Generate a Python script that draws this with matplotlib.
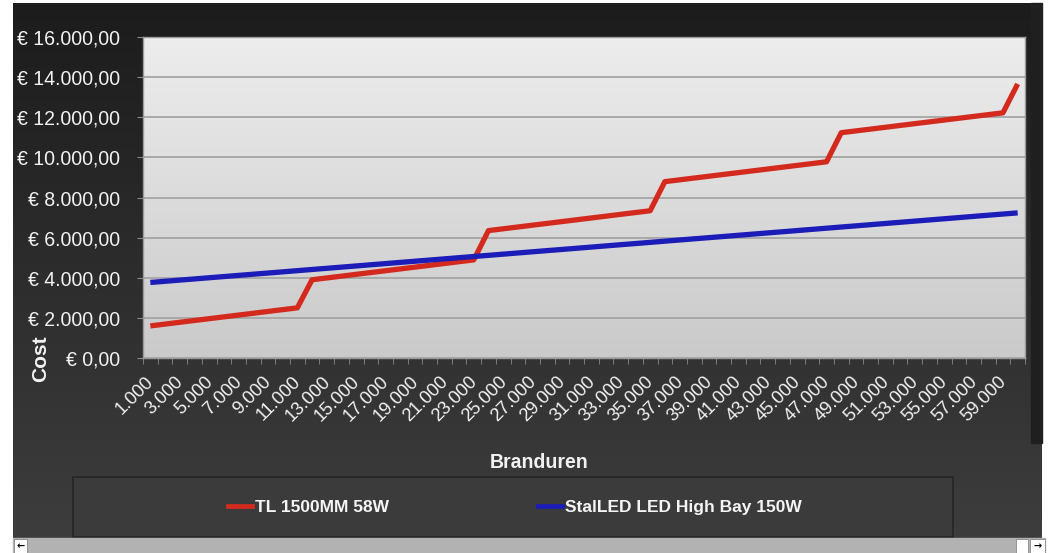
import numpy as np
import matplotlib
matplotlib.use('Agg')
import matplotlib.pyplot as plt
import matplotlib.transforms as mtransforms
from matplotlib import font_manager
from matplotlib.patches import Rectangle
from matplotlib.colors import LinearSegmentedColormap
from matplotlib.lines import Line2D

# categorieen (branduren) en kosten per lamp
branduren = [1000 * k for k in range(1, 61)]

tl_1500mm = [1600, 1690, 1780, 1870, 1960, 2050, 2140, 2230, 2320, 2410, 2500,
             3900, 3990, 4080, 4170, 4260, 4350, 4440, 4530, 4620, 4710, 4800, 4890,
             6350, 6440, 6530, 6620, 6710, 6800, 6890, 6980, 7070, 7160, 7250, 7340,
             8790, 8880, 8970, 9060, 9150, 9240, 9330, 9420, 9510, 9600, 9690, 9780,
             11230, 11320, 11410, 11500, 11590, 11680, 11770, 11860, 11950, 12040, 12130, 12220,
             13660]

stalled_150w = [3765, 3824, 3883, 3941, 4000, 4059, 4118, 4177, 4235, 4294,
                4353, 4412, 4471, 4529, 4588, 4647, 4706, 4765, 4823, 4882,
                4941, 5000, 5059, 5117, 5176, 5235, 5294, 5353, 5411, 5470,
                5529, 5588, 5647, 5705, 5764, 5823, 5882, 5941, 5999, 6058,
                6117, 6176, 6235, 6293, 6352, 6411, 6470, 6529, 6587, 6646,
                6705, 6764, 6823, 6881, 6940, 6999, 7058, 7117, 7175, 7234]

series_names = ["TL 1500MM 58W", "StalLED LED High Bay 150W"]
y_ticks = [0, 2000, 4000, 6000, 8000, 10000, 12000, 14000, 16000]


def has_font(name):
    try:
        font_manager.findfont(font_manager.FontProperties(family=name),
                              fallback_to_default=False)
        return True
    except ValueError:
        return False


# smalle letter als die er is, anders gewone Liberation Sans wat kleiner
if has_font('Liberation Sans Narrow'):
    narrow = 'Liberation Sans Narrow'
    s = 1.0
else:
    narrow = 'Liberation Sans'
    s = 0.88

def nl(v):
    # 16000 -> 16.000
    return f"{v:,}".replace(',', '.')

def euro(v):
    t = f"{v:,.2f}".replace(',', 'X').replace('.', ',').replace('X', '.')
    return "€ " + t


W, H = 1050, 553
fig = plt.figure(figsize=(W / 100, H / 100), dpi=100, facecolor='white')

# achtergrond (donker paneel + scrollbalk)
bg = fig.add_axes([0, 0, 1, 1], zorder=-10)
bg.set_xlim(0, W)
bg.set_ylim(H, 0)
bg.axis('off')
dark = LinearSegmentedColormap.from_list('dark', ['#1c1c1c', '#3d3d3d'])
bg.imshow(np.linspace(0, 1, 256).reshape(-1, 1), cmap=dark,
          extent=(13, 1042, 538, 3), aspect='auto')
bg.add_patch(Rectangle((1031, 3), 11, 440, color='#1f1f1f'))
bg.add_patch(Rectangle((73, 477), 880, 60, facecolor='#3b3b3b',
                       edgecolor='#252525', lw=1.2))
bg.add_patch(Rectangle((13, 538), 1032, 15, color='#b2b2b2'))
bg.add_patch(Rectangle((14, 539), 13, 14, facecolor='white', edgecolor='#888', lw=0.6))
bg.add_patch(Rectangle((1016, 539), 12, 14, facecolor='white', edgecolor='#888', lw=0.6))
bg.add_patch(Rectangle((1030, 539), 15, 14, facecolor='white', edgecolor='#888', lw=0.6))
bg.text(20.5, 546, '←', ha='center', va='center', fontsize=7, fontweight='bold',
        family='DejaVu Sans', color='black')
bg.text(1037.5, 546, '→', ha='center', va='center', fontsize=7, fontweight='bold',
        family='DejaVu Sans', color='black')

# grafiek
ax = fig.add_axes([143 / W, 195 / H, 882 / W, 321 / H])
x = np.arange(len(branduren))
light = LinearSegmentedColormap.from_list('light', ['#ededed', '#cacaca'])
ax.imshow(np.linspace(0, 1, 256).reshape(-1, 1), cmap=light,
          extent=(-0.5, len(x) - 0.5, 0, 16000), aspect='auto', zorder=0)

ax.plot(x, tl_1500mm, color='#d42a1e', lw=3.8, solid_capstyle='butt', zorder=3)
ax.plot(x, stalled_150w, color='#1c1cb8', lw=3.8, solid_capstyle='butt', zorder=3)

ax.set_xlim(-0.5, len(x) - 0.5)
ax.set_ylim(0, 16000)
ax.set_axisbelow(True)
ax.yaxis.grid(True, color='#a5a5a5', lw=1.3)

ax.set_yticks(y_ticks)
ax.set_yticklabels([euro(v) for v in y_ticks], family=narrow, fontsize=16 * s,
                   color='#f2f2f2')
ax.tick_params(axis='y', length=4.5, color='#8a8a8a', pad=12)

ax.set_xticks(x[::2])
ax.set_xticklabels([nl(v) for v in branduren[::2]], rotation=45, ha='right', va='top',
                   family=narrow, fontsize=15 * s, color='#f2f2f2')
ax.set_xticks(np.arange(-0.5, len(x), 1), minor=True)
ax.tick_params(axis='x', which='major', length=0, pad=11)
ax.tick_params(axis='x', which='minor', length=4, color='#8a8a8a')
# labels iets naar rechts, zoals in Excel
shift = mtransforms.ScaledTranslation(7 / 100, 0, fig.dpi_scale_trans)
for lab in ax.get_xticklabels():
    lab.set_transform(lab.get_transform() + shift)

for sp in ax.spines.values():
    sp.set_color('#9a9a9a')
    sp.set_linewidth(1)

fig.text(539 / W, 1 - 463 / H, 'Branduren', ha='center', va='center',
         family=narrow, fontsize=16 * s, fontweight='bold', color='#f2f2f2')
fig.text(41 / W, 1 - 359 / H, 'Cost', rotation=90, ha='center', va='center',
         family='Liberation Sans', fontsize=15, fontweight='bold', color='#f2f2f2')

handles = [Line2D([], [], color='#d42a1e', lw=3.4),
           Line2D([], [], color='#1c1cb8', lw=3.4)]
fig.legend(handles, series_names, loc='center left',
           bbox_to_anchor=(228 / W, 1 - 507 / H), ncol=2, frameon=False,
           borderpad=0, borderaxespad=0, handlelength=1.4, handletextpad=0.15,
           columnspacing=8.6, labelcolor='#f5f5f5',
           prop={'family': narrow, 'size': 14.2 * s, 'weight': 'bold'})

fig.savefig('out.png', dpi=100, facecolor='white')
